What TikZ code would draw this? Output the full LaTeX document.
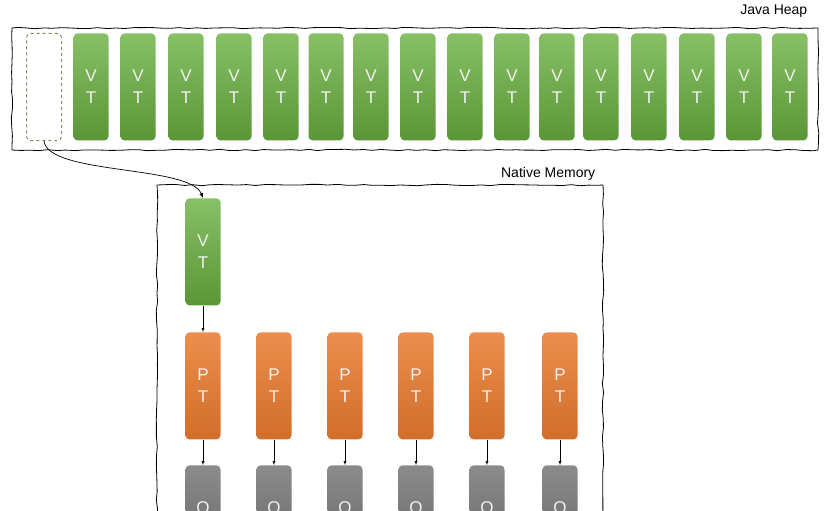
\documentclass[tikz,border=0pt]{standalone}
\usepackage{fontspec}
\setmainfont{Liberation Sans}
\usetikzlibrary{decorations.pathmorphing}
\definecolor{vtgreen}{RGB}{106,176,64}
\definecolor{ptorange}{RGB}{232,122,46}
\definecolor{osgray}{RGB}{110,110,110}
\begin{document}
\begin{tikzpicture}[x=1pt, y=-1pt, line width = 0.8pt,
                    thread/.style = {rectangle, rounded corners = 4pt, minimum width = 35pt,
                                     minimum height = 107pt, anchor = north, align = center,
                                     text = white!90!gray, font = \fontsize{17}{20}\selectfont, inner sep = 0pt},
                    vt/.style = {thread, top color = vtgreen!80!white, bottom color = vtgreen!85!black},
                    pt/.style = {thread, top color = ptorange!85!white, bottom color = ptorange!90!black},
                    os/.style = {thread, top color = osgray!80!white, bottom color = osgray!90!black},
                    free/.style = {thread, draw = vtgreen!40!gray, dashed, line width = 1pt},
                    sketch/.style = {draw, decorate, decoration = {random steps, segment length = 9pt, amplitude = 0.7pt}},
                    title/.style = {anchor = east, font = \fontsize{14}{16}\selectfont},
                    link/.style = {-latex, thin}]
  \useasboundingbox (0,0) rectangle (828,511);
  \clip (0,0) rectangle (828,511);
  % Java heap
  \draw [sketch] (12,28) rectangle (818,150);
  \node [title] (heap) at (811,11) {Java Heap};
  \node [free] (F) at (44,33) {};
  \foreach \i/\x in {1/91,2/138,3/186,4/234,5/281,6/326,7/371,8/418,9/465,10/512,11/557,12/601,13/649,14/697,15/744,16/790}
    \node [vt] (V\i) at (\x,33) {V\\[2pt]T};
  % native memory
  \draw [sketch] (157,185) -- (603,185) -- (603,530) (157,185) -- (157,530);
  \node [title] (native) at (599,174) {Native Memory};
  \node [vt] (NV) at (203,198) {V\\[2pt]T};
  \foreach \i/\x in {1/203,2/274,3/345,4/416,5/487,6/560} {
    \node [pt] (P\i) at (\x,332) {P\\[2pt]T};
    \node [os] (O\i) at (\x,465) {O\\[2pt]S};
    \draw [link] (P\i) -- (O\i);
  }
  \draw [link] (NV) -- (P1);
  \draw [-latex, line width = 0.7pt] (F.south) .. controls (48,175) and (190,165) .. (NV.north);
\end{tikzpicture}
\end{document}
